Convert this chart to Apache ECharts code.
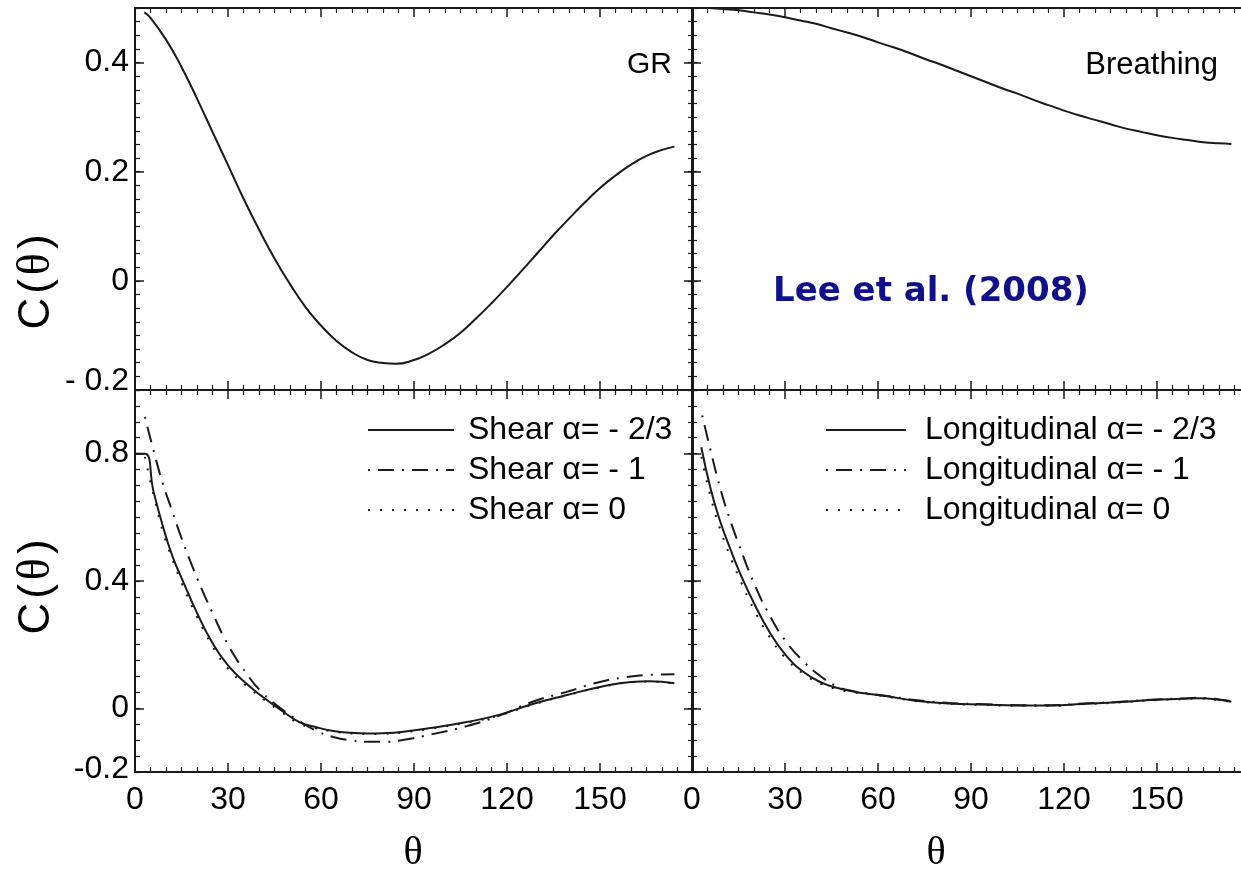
<!DOCTYPE html>
<html>
<head>
<meta charset="utf-8">
<script src="https://cdn.jsdelivr.net/npm/echarts@6/dist/echarts.min.js"></script>
<style>
  html, body { margin: 0; padding: 0; background: #fff; }
  #chart { width: 1241px; height: 870px; }
</style>
</head>
<body>
<div id="chart"></div>
<script>
// top-left: GR
const grTheta = [3, 5, 10, 15, 20, 25, 30, 35, 40, 45, 50, 55, 60, 65, 70, 75, 80, 84, 90, 95, 100, 105, 110, 115, 120, 125, 130, 135, 140, 145, 150, 155, 160, 165, 170, 174]
const grC = [0.492, 0.482, 0.442, 0.392, 0.334, 0.273, 0.212, 0.151, 0.094, 0.041, -0.006, -0.048, -0.082, -0.110, -0.131, -0.145, -0.1505, -0.152, -0.145, -0.133, -0.116, -0.095, -0.069, -0.041, -0.011, 0.020, 0.052, 0.084, 0.114, 0.143, 0.170, 0.193, 0.213, 0.229, 0.240, 0.246]

// top-right: breathing
const brTheta = [3, 5, 10, 15, 20, 25, 30, 35, 40, 45, 50, 55, 60, 65, 70, 75, 80, 85, 90, 95, 100, 105, 110, 115, 120, 125, 130, 135, 140, 145, 150, 155, 160, 165, 170, 174]
const brC = [0.500, 0.500, 0.498, 0.496, 0.492, 0.488, 0.483, 0.477, 0.471, 0.463, 0.455, 0.447, 0.437, 0.428, 0.418, 0.407, 0.397, 0.386, 0.375, 0.364, 0.353, 0.343, 0.332, 0.322, 0.312, 0.303, 0.295, 0.287, 0.279, 0.273, 0.267, 0.262, 0.258, 0.254, 0.252, 0.251]

// bottom-left: shear
const shearA23Theta = [0, 3.2, 6, 9, 12, 15, 20, 25, 30, 36, 42, 47, 53, 58, 64, 70, 75, 80, 86, 96, 107, 118, 128, 139, 150, 160, 166, 174]
const shearA23C = [0.80, 0.80, 0.68, 0.572, 0.48, 0.41, 0.30, 0.205, 0.135, 0.077, 0.030, -0.005, -0.043, -0.058, -0.071, -0.077, -0.079, -0.078, -0.074, -0.061, -0.043, -0.019, 0.013, 0.041, 0.067, 0.083, 0.085, 0.079]
const shearA1Theta = [3.2, 6, 9, 12, 15, 20, 25, 30, 36, 41, 47, 53, 58, 64, 70, 75, 80, 86, 96, 107, 118, 128, 139, 150, 160, 166, 174]
const shearA1C = [0.915, 0.81, 0.705, 0.62, 0.535, 0.41, 0.30, 0.20, 0.109, 0.05, 0.0, -0.04, -0.068, -0.09, -0.101, -0.105, -0.105, -0.100, -0.081, -0.056, -0.021, 0.020, 0.051, 0.083, 0.100, 0.105, 0.107]
const shearA0Theta = [3.2, 6, 9, 12, 15, 20, 25, 30, 36, 42, 47, 53, 58, 64, 70, 75, 80, 86, 96, 107, 118, 128, 139, 150, 160, 166, 174]
const shearA0C = [0.79, 0.67, 0.555, 0.47, 0.395, 0.288, 0.195, 0.125, 0.070, 0.025, -0.010, -0.048, -0.062, -0.073, -0.079, -0.081, -0.080, -0.076, -0.063, -0.045, -0.021, 0.011, 0.040, 0.066, 0.082, 0.084, 0.078]

// bottom-right: longitudinal
const longA23Theta = [3, 6, 9, 12, 15, 20, 25, 30, 36, 42, 47, 52, 58, 63, 72, 83, 94, 105, 116, 126, 137, 148, 158, 164, 170, 174]
const longA23C = [0.82, 0.69, 0.59, 0.51, 0.436, 0.33, 0.24, 0.17, 0.114, 0.080, 0.064, 0.053, 0.044, 0.038, 0.024, 0.015, 0.012, 0.009, 0.009, 0.014, 0.019, 0.026, 0.030, 0.032, 0.027, 0.021]
const longA1Theta = [3.3, 6, 9, 12, 15, 20, 25, 30, 36, 42, 47, 52, 58, 63, 72, 83, 94, 105, 116, 126, 137, 148, 158, 164, 170, 174]
const longA1C = [0.92, 0.81, 0.695, 0.60, 0.518, 0.393, 0.293, 0.214, 0.147, 0.097, 0.068, 0.054, 0.045, 0.039, 0.026, 0.017, 0.013, 0.010, 0.010, 0.015, 0.020, 0.027, 0.031, 0.033, 0.028, 0.022]
const longA0Theta = [3, 6, 9, 12, 15, 20, 25, 30, 36, 42, 47, 52, 58, 63, 72, 83, 94, 105, 116, 126, 137, 148, 158, 164, 170, 174]
const longA0C = [0.79, 0.665, 0.565, 0.485, 0.415, 0.31, 0.225, 0.16, 0.108, 0.075, 0.060, 0.050, 0.043, 0.037, 0.023, 0.014, 0.011, 0.008, 0.008, 0.013, 0.018, 0.025, 0.029, 0.031, 0.026, 0.020]

const shearNames = ['Shear α= - 2/3', 'Shear α= - 1', 'Shear α= 0']
const longNames = ['Longitudinal α= - 2/3', 'Longitudinal α= - 1', 'Longitudinal α= 0']
const topYLabels = [-0.2, 0, 0.2, 0.4]
const topYMajor = [0, 0.2, 0.4]
const botYLabels = [-0.2, 0, 0.4, 0.8]
const botYMajor = [0, 0.4, 0.8]

const INK = '#1a1a1a'
const SANS = 'Liberation Sans'
const SERIF = 'Liberation Serif'
const DASH_DOT = [2, 8, 16, 8]
const DOTTED = [2, 10]

const pairs = (xs, ys) => xs.map((x, i) => [x, ys[i]])
const fmt = v => String(+v.toFixed(2))

const panels = [
  { left: 135, top: 8, yMin: -0.2, yMax: 0.5, minor: 0.025, major: topYMajor, labels: topYLabels, neg: '- 0.2', negLift: 18, showY: true, showX: false },
  { left: 692, top: 8, yMin: -0.2, yMax: 0.5, minor: 0.025, major: topYMajor, labels: topYLabels, showY: false, showX: false },
  { left: 135, top: 390, yMin: -0.2, yMax: 1.0, minor: 0.05, major: botYMajor, labels: botYLabels, neg: '-0.2', negLift: 6, showY: true, showX: true },
  { left: 692, top: 390, yMin: -0.2, yMax: 1.0, minor: 0.05, major: botYMajor, labels: botYLabels, showY: false, showX: true }
]

const lineStyle = { color: INK, width: 2 }
const grid = [], xAxis = [], yAxis = []

panels.forEach((p, g) => {
  grid.push({ left: p.left, top: p.top, width: 558, height: 382, containLabel: false, outerBoundsMode: 'none' })
  ;['bottom', 'top'].forEach(pos => {
    xAxis.push({
      gridIndex: g, type: 'value', position: pos, min: 0, max: 180, interval: 30,
      axisLine: { show: true, onZero: false, lineStyle },
      axisTick: { show: true, inside: true, length: 9, lineStyle: { color: INK, width: 1.5 } },
      minorTick: { show: true, splitNumber: 6, length: 5, lineStyle: { color: INK, width: 1.2 } },
      splitLine: { show: false },
      axisLabel: {
        show: pos === 'bottom' && p.showX, showMaxLabel: false, margin: 12,
        color: '#000', fontSize: 32, fontFamily: SANS
      }
    })
  })
  ;['left', 'right'].forEach(pos => {
    // major ticks + labels
    yAxis.push({
      gridIndex: g, type: 'value', position: pos, min: p.yMin, max: p.yMax, interval: 0.2,
      axisLine: { show: true, onZero: false, lineStyle },
      axisTick: { show: true, inside: true, length: 9, customValues: p.major, lineStyle: { color: INK, width: 1.5 } },
      splitLine: { show: false },
      axisLabel: {
        show: pos === 'left' && p.showY, customValues: p.labels, margin: 6,
        color: '#000', fontSize: 32, fontFamily: SANS,
        formatter: v => v < 0 ? '{neg|' + p.neg + '}' : fmt(v),
        rich: { neg: { fontSize: 32, fontFamily: SANS, color: '#000', padding: [0, 0, p.negLift || 0, 0] } }
      }
    })
    // minor ticks
    yAxis.push({
      gridIndex: g, type: 'value', position: pos, min: p.yMin, max: p.yMax, interval: p.minor,
      axisLine: { show: false, onZero: false },
      axisTick: { show: true, inside: true, length: 5, lineStyle: { color: INK, width: 1.2 } },
      splitLine: { show: false },
      axisLabel: { show: false }
    })
  })
})

function line(name, xs, ys, g, type) {
  return {
    name, type: 'line', xAxisIndex: g * 2, yAxisIndex: g * 4,
    data: pairs(xs, ys), smooth: 0.5, symbol: 'none', clip: true, silent: true,
    itemStyle: { color: INK },
    lineStyle: { color: INK, width: 2, type }
  }
}

const series = [
  line('GR', grTheta, grC, 0, 'solid'),
  line('Breathing', brTheta, brC, 1, 'solid'),
  line(shearNames[0], shearA23Theta, shearA23C, 2, 'solid'),
  line(shearNames[1], shearA1Theta, shearA1C, 2, DASH_DOT),
  line(shearNames[2], shearA0Theta, shearA0C, 2, DOTTED),
  line(longNames[0], longA23Theta, longA23C, 3, 'solid'),
  line(longNames[1], longA1Theta, longA1C, 3, DASH_DOT),
  line(longNames[2], longA0Theta, longA0C, 3, DOTTED)
]

const legendText = pad => ({ fontSize: 32, fontFamily: SANS, color: '#000', lineHeight: 30, padding: [0, 0, 0, pad] })

const cTheta = {
  a: { fontSize: 44, fontFamily: SANS, color: '#000' },
  p: { fontSize: 44, fontFamily: SANS, color: '#000', padding: [0, 4] },
  b: { fontSize: 46, fontFamily: SERIF, color: '#000' }
}

const chart = echarts.init(document.getElementById('chart'), null, { renderer: 'canvas' })
chart.setOption({
  animation: false,
  backgroundColor: '#fff',
  grid, xAxis, yAxis, series,
  legend: [
    { data: shearNames, orient: 'vertical', left: 362, top: 409, itemWidth: 86, itemHeight: 14, itemGap: 8,
      selectedMode: false, itemStyle: { opacity: 0 }, textStyle: legendText(9) },
    { data: longNames, orient: 'vertical', left: 820, top: 409, itemWidth: 80, itemHeight: 14, itemGap: 8,
      selectedMode: false, itemStyle: { opacity: 0 }, textStyle: legendText(14) }
  ],
  graphic: [
    { type: 'text', x: 672, y: 65, style: { text: 'GR', fill: '#000', font: '30px "Liberation Sans"', align: 'right', verticalAlign: 'middle' } },
    { type: 'text', x: 1218, y: 65, style: { text: 'Breathing', fill: '#000', font: '31px "Liberation Sans"', align: 'right', verticalAlign: 'middle' } },
    { type: 'text', x: 773, y: 292, style: { text: 'Lee et al. (2008)', fill: '#10108a', font: 'bold 34px "DejaVu Sans"', align: 'left', verticalAlign: 'middle' } },
    { type: 'text', x: 37, y: 280, rotation: Math.PI / 2, style: { text: '{a|C}{p|(}{b|θ}{p|)}', rich: cTheta, align: 'center', verticalAlign: 'middle' } },
    { type: 'text', x: 37, y: 585, rotation: Math.PI / 2, style: { text: '{a|C}{p|(}{b|θ}{p|)}', rich: cTheta, align: 'center', verticalAlign: 'middle' } },
    { type: 'text', x: 413, y: 853, style: { text: 'θ', fill: '#000', font: '40px "Liberation Serif"', align: 'center', verticalAlign: 'middle' } },
    { type: 'text', x: 936, y: 853, style: { text: 'θ', fill: '#000', font: '40px "Liberation Serif"', align: 'center', verticalAlign: 'middle' } }
  ]
})
window.addEventListener('resize', () => chart.resize())
</script>
</body>
</html>
